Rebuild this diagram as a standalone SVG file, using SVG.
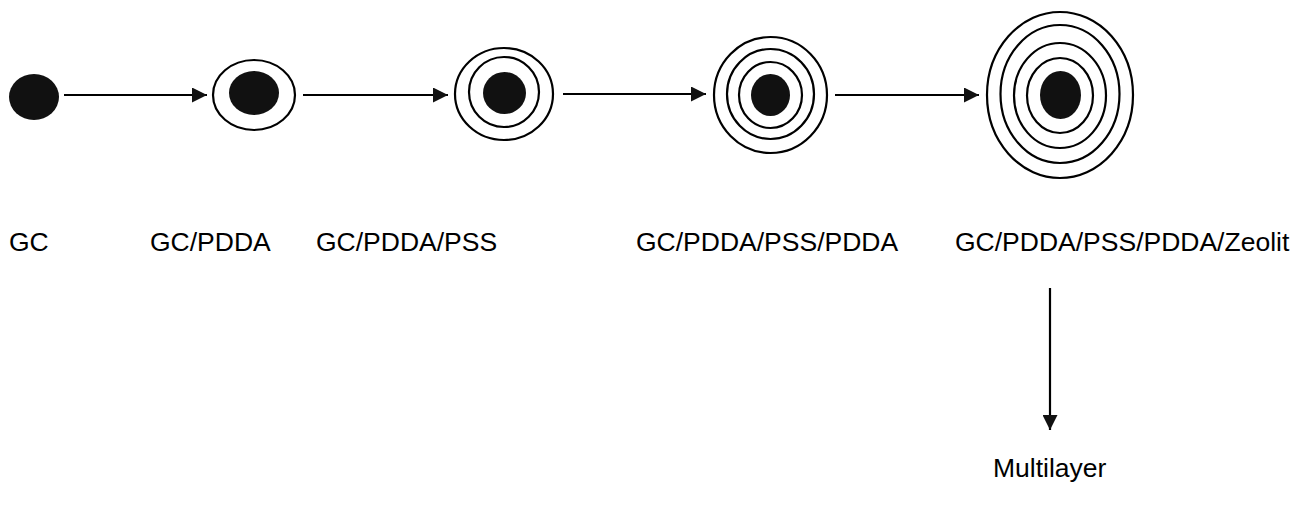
<svg xmlns="http://www.w3.org/2000/svg" width="1307" height="518" viewBox="0 0 1307 518">
<style>
.ring{fill:none;stroke:#000;stroke-width:2.2}
.core{fill:#111}
.lbl{font-family:"Liberation Sans",Arial,sans-serif;font-size:26.5px;fill:#000}
.conn{stroke:#000;stroke-width:2.2;fill:none}
</style>
<defs>
<marker id="ah" viewBox="0 0 15 15" refX="15" refY="7.5" markerWidth="15" markerHeight="15" markerUnits="userSpaceOnUse" orient="auto">
<path d="M0,0 L15,7.5 L0,15 Z" fill="#111"/>
</marker>
</defs>
<rect width="1307" height="518" fill="#fff"/>
<g id="n1">
<ellipse class="core" cx="34" cy="97" rx="25" ry="23"/>
<text class="lbl" x="9" y="251">GC</text>
</g>
<g id="n2">
<ellipse class="ring" cx="254" cy="95" rx="41" ry="35"/>
<ellipse class="core" cx="254" cy="93" rx="25" ry="22"/>
<text class="lbl" x="150" y="251">GC/PDDA</text>
</g>
<g id="n3">
<ellipse class="ring" cx="504" cy="94" rx="49" ry="46"/>
<ellipse class="ring" cx="504" cy="92" rx="35" ry="35"/>
<ellipse class="core" cx="504.5" cy="93" rx="21.5" ry="21"/>
<text class="lbl" x="316" y="251">GC/PDDA/PSS</text>
</g>
<g id="n4">
<ellipse class="ring" cx="770.5" cy="95" rx="56.5" ry="58"/>
<ellipse class="ring" cx="770.5" cy="94" rx="43.5" ry="45"/>
<ellipse class="ring" cx="770.5" cy="95" rx="31.5" ry="33"/>
<ellipse class="core" cx="770.5" cy="95" rx="19.5" ry="21"/>
<text class="lbl" x="636" y="251">GC/PDDA/PSS/PDDA</text>
</g>
<g id="n5">
<ellipse class="ring" cx="1060" cy="95" rx="73" ry="83"/>
<ellipse class="ring" cx="1060" cy="94" rx="59.5" ry="69"/>
<ellipse class="ring" cx="1060" cy="95.5" rx="46" ry="52.5"/>
<ellipse class="ring" cx="1060" cy="95.5" rx="33" ry="37.5"/>
<ellipse class="core" cx="1060.5" cy="95" rx="20.5" ry="24"/>
<text class="lbl" x="955" y="251">GC/PDDA/PSS/PDDA/Zeolit</text>
</g>
<g id="n6">
<text class="lbl" x="993" y="477">Multilayer</text>
</g>
<g id="connectors">
<line class="conn" x1="64" y1="95" x2="207" y2="95" marker-end="url(#ah)"/>
<line class="conn" x1="303" y1="95" x2="448" y2="95" marker-end="url(#ah)"/>
<line class="conn" x1="563" y1="94" x2="706" y2="94" marker-end="url(#ah)"/>
<line class="conn" x1="835" y1="95" x2="979" y2="95" marker-end="url(#ah)"/>
<line class="conn" x1="1050" y1="288" x2="1050" y2="430" marker-end="url(#ah)"/>
</g>
</svg>
